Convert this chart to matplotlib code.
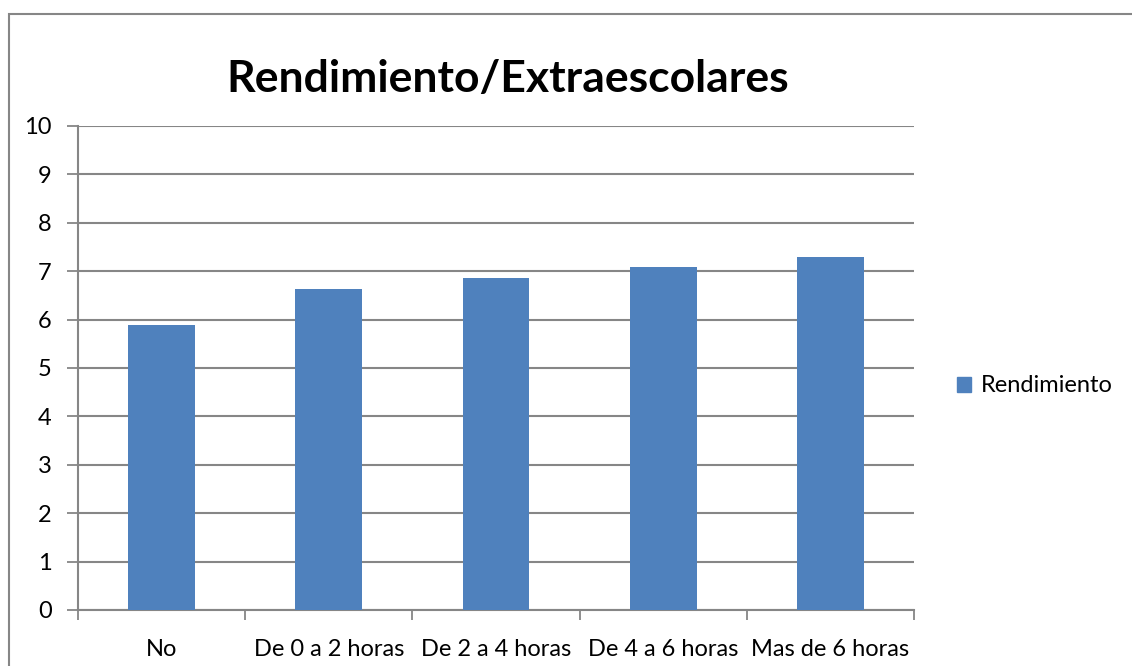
import matplotlib.pyplot as plt
from matplotlib.patches import Rectangle, Patch

# data
categories = ["No", "De 0 a 2 horas", "De 2 a 4 horas", "De 4 a 6 horas", "Mas de 6 horas"]
rendimiento = [5.88, 6.63, 6.86, 7.09, 7.29]
y_ticks = list(range(0, 11))

bar_color = "#4F81BD"
grid_color = "#868686"
font = "Lato"

fig = plt.figure(figsize=(11.32, 6.66), dpi=100)

# chart frame (only top/left visible, the rest runs off the picture)
fig.patches.append(Rectangle((9 / 1132, -0.1), 1.2, 1 - 14 / 666 + 0.1,
                             transform=fig.transFigure, fill=False,
                             edgecolor=grid_color, linewidth=1.5))

ax = fig.add_axes([78 / 1132, 1 - 610 / 666, (914 - 78) / 1132, (610 - 126) / 666])

x = range(len(categories))
ax.bar(x, rendimiento, width=0.4, color=bar_color, zorder=3)

ax.set_xlim(-0.5, len(categories) - 0.5)
ax.set_ylim(0, 10)
ax.set_yticks(y_ticks)
ax.set_yticklabels([str(v) for v in y_ticks], fontfamily=font, fontsize=17)
ax.set_xticks([i - 0.5 for i in range(len(categories) + 1)])
ax.set_xticklabels([])
ax.set_xticks(list(x), minor=True)
ax.set_xticklabels(categories, minor=True, fontfamily=font, fontsize=17)
ax.tick_params(axis="x", which="minor", length=0, pad=21)
ax.tick_params(axis="x", which="major", length=7, color=grid_color, width=1.3)
ax.tick_params(axis="y", length=8, color=grid_color, width=1.3, pad=11)

ax.yaxis.grid(True, color=grid_color, linewidth=1.5, zorder=0)
for s in ["top", "right"]:
    ax.spines[s].set_visible(False)
for s in ["left", "bottom"]:
    ax.spines[s].set_color(grid_color)
    ax.spines[s].set_linewidth(1.5)

fig.text(508 / 1132, 1 - 79 / 666, "Rendimiento/Extraescolares", ha="center", va="center",
         fontfamily=font, fontweight="bold", fontsize=32)

fig.legend(handles=[Patch(color=bar_color, label="Rendimiento")],
           loc="center left", bbox_to_anchor=(936 / 1132, 1 - 386 / 666),
           frameon=False, prop={"family": font, "size": 17},
           handlelength=0.6, handleheight=0.6, handletextpad=0.4)

fig.savefig("out.png", dpi=100, facecolor="white")
